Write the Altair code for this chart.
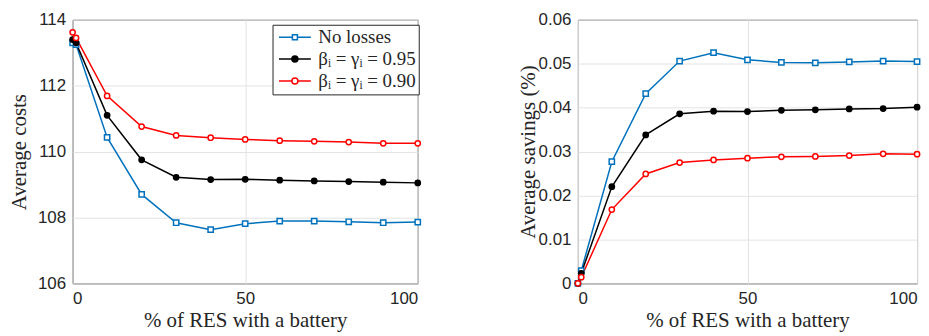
import altair as alt
import pandas as pd

x_vals = [0, 1, 10, 20, 30, 40, 50, 60, 70, 80, 90, 100]
series_names = ["No losses", "βᵢ = γᵢ = 0.95", "βᵢ = γᵢ = 0.90"]

cost_no_losses = [113.30, 113.25, 110.43, 108.70, 107.84, 107.63, 107.81, 107.89, 107.89, 107.87, 107.84, 107.86]
cost_095 = [113.40, 113.30, 111.10, 109.75, 109.22, 109.15, 109.16, 109.13, 109.11, 109.09, 109.07, 109.05]
cost_090 = [113.62, 113.45, 111.69, 110.76, 110.49, 110.42, 110.37, 110.33, 110.31, 110.29, 110.25, 110.25]

sav_no_losses = [0.0, 0.0029, 0.0277, 0.0432, 0.0506, 0.0525, 0.0509, 0.0503, 0.0502, 0.0504, 0.0506, 0.0505]
sav_095 = [0.0, 0.0023, 0.0220, 0.0338, 0.0386, 0.0392, 0.0391, 0.0394, 0.0395, 0.0397, 0.0398, 0.0401]
sav_090 = [0.0, 0.0014, 0.0168, 0.0249, 0.0275, 0.0281, 0.0285, 0.0288, 0.0289, 0.0291, 0.0295, 0.0294]

colors = ["#0072BD", "#000000", "#FF0000"]
fills = ["white", "#000000", "white"]
shapes = ["square", "circle", "circle"]

# legend symbol paths (unit = half of the 12 px symbol box)
line_path = "M-2.67,0H2.67"
sq_path = "M-0.42,-0.42H0.42V0.42H-0.42Z"
circ_path = "M0.5,0A0.5,0.5 0 1,1 -0.5,0A0.5,0.5 0 1,1 0.5,0"
empty_path = "M0,0"
marker_paths = [sq_path, circ_path, circ_path]


def make_df(series_lists):
    rows = []
    for name, vals in zip(series_names, series_lists):
        for xv, yv in zip(x_vals, vals):
            rows.append({"x": xv, "y": yv, "series": name})
    return pd.DataFrame(rows)


df_cost = make_df([cost_no_losses, cost_095, cost_090])
df_sav = make_df([sav_no_losses, sav_095, sav_090])

color_scale = alt.Scale(domain=series_names, range=colors)

AXIS_FONT = "Liberation Sans"
TITLE_FONT = "Liberation Serif"

common_legend = dict(
    title=None,
    orient="none",
    legendX=201,
    legendY=5,
    padding=3,
    rowPadding=2,
    labelFont=TITLE_FONT,
    labelFontSize=19,
    labelOffset=14,
    symbolOffset=10,
    symbolSize=144,
    symbolStrokeWidth=1.5,
    symbolOpacity=1,
)
# base legend: box, labels and the line part of each symbol
legend_base = alt.Legend(symbolType=line_path, fillColor="white", strokeColor="#262626",
                         labelColor="#262626", zindex=0, **common_legend)

x_enc = alt.X(
    "x:Q",
    scale=alt.Scale(domain=[0, 100], nice=False),
    axis=alt.Axis(values=[0, 50, 100], title="% of RES with a battery"),
)


def panel(df, y_domain, y_values, y_title, show_legend, width, label_expr=None, title_x=None):
    y_axis_kwargs = dict(values=y_values, title=y_title)
    if label_expr:
        y_axis_kwargs["labelExpr"] = label_expr
    if title_x is not None:
        y_axis_kwargs["titleX"] = title_x
    y_enc = alt.Y("y:Q", scale=alt.Scale(domain=y_domain, nice=False, zero=False),
                  axis=alt.Axis(**y_axis_kwargs))
    lines = alt.Chart(df).mark_line(strokeWidth=1.5).encode(
        x=x_enc,
        y=y_enc,
        color=alt.Color("series:N", scale=color_scale,
                        legend=legend_base if show_legend else None),
    )
    layers = [lines]
    for name, col, fil, shp in zip(series_names, colors, fills, shapes):
        layers.append(
            alt.Chart(df).transform_filter(alt.datum.series == name).mark_point(
                shape=shp, size=28, strokeWidth=1.5, stroke=col, fill=fil, opacity=1, filled=False
            ).encode(x=x_enc, y=y_enc)
        )
    if show_legend:
        # one overlay legend per series that draws only that series' marker
        for i, (name, col, fil) in enumerate(zip(series_names, colors, fills)):
            rng = [marker_paths[j] if j == i else empty_path for j in range(len(series_names))]
            lg = alt.Legend(labelOpacity=0, zindex=1 + i, **common_legend)
            layers.append(
                alt.Chart(df).transform_filter("false").mark_point(
                    size=144, strokeWidth=1.5, stroke=col, fill=fil, filled=False
                ).encode(
                    x=x_enc,
                    y=y_enc,
                    shape=alt.Shape("series:N",
                                    scale=alt.Scale(domain=series_names, range=rng),
                                    legend=lg),
                )
            )
    lay = alt.layer(*layers).properties(width=width, height=265)
    if show_legend:
        lay = lay.resolve_scale(shape="independent").resolve_legend(shape="independent")
    return lay


left = panel(df_cost, [106, 114], [106, 108, 110, 112, 114], "Average costs", True, 347)
right = panel(df_sav, [0, 0.06], [0, 0.01, 0.02, 0.03, 0.04, 0.05, 0.06],
              "Average savings (%)", False, 341,
              label_expr="datum.value == 0 ? '0' : format(datum.value, '.2f')",
              title_x=-40)

chart = alt.hconcat(left, right, spacing=92).resolve_scale(
    color="independent", shape="independent"
).resolve_legend(
    color="independent", shape="independent"
).properties(
    padding={"left": 8, "top": 9, "right": 5, "bottom": 0}
).configure_view(
    stroke="#262626", strokeWidth=1
).configure_axis(
    domain=False,
    ticks=False,
    grid=True,
    gridColor="#e3e3e3",
    gridWidth=1,
    labelFont=AXIS_FONT,
    labelFontSize=17,
    labelColor="#262626",
    titleFont=TITLE_FONT,
    titleFontSize=21,
    titleFontWeight="normal",
    titleColor="#262626",
).configure_axisY(
    labelPadding=7,
    titlePadding=8,
).configure_axisX(
    labelPadding=7,
    titlePadding=3,
)

chart.save("out.html", embed_options={"renderer": "svg", "actions": False})
